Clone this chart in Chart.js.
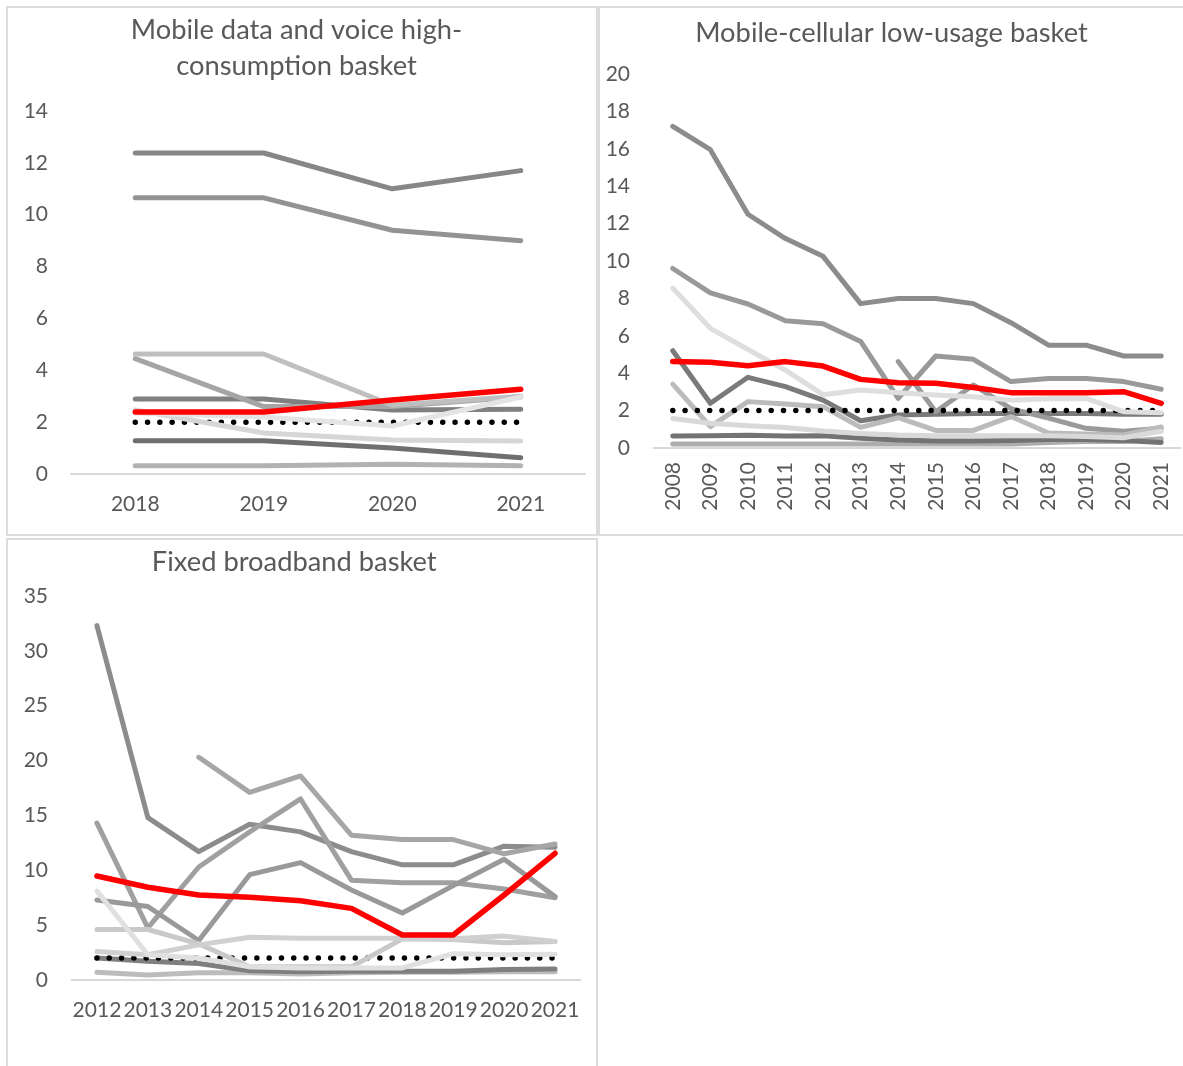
<!DOCTYPE html>
<html>
<head>
<meta charset="utf-8">
<script src="https://cdn.jsdelivr.net/npm/chart.js@4/dist/chart.umd.min.js"></script>
<style>
  body { margin:0; background:#fff; width:1183px; height:1066px; overflow:hidden; position:relative; }
  .panel { position:absolute; border:2px solid #dcdcdc; box-sizing:border-box; }
  canvas { position:absolute; }
</style>
</head>
<body>
<div class="panel" style="left:6px;top:6px;width:592px;height:530px"></div>
<div class="panel" style="left:598px;top:6px;width:600px;height:530px"></div>
<div class="panel" style="left:6px;top:538px;width:592px;height:540px"></div>
<canvas id="c1" width="587" height="526" style="left:8px;top:8px"></canvas>
<canvas id="c2" width="580" height="526" style="left:603px;top:8px"></canvas>
<canvas id="c3" width="588" height="526" style="left:8px;top:540px"></canvas>
<script>
// --- panel 1: mobile data and voice high-consumption basket
const years1 = ['2018', '2019', '2020', '2021'];
const hc_red = [2.39, 2.39, 2.85, 3.27];
const hc_ref = [2, 2, 2, 2];
const hc_g1 = [12.38, 12.38, 11.0, 11.7];
const hc_g2 = [10.65, 10.65, 9.4, 9.0];
const hc_g3 = [4.63, 4.63, 2.65, 3.0];
const hc_g4 = [4.45, 2.6, 2.6, 2.97];
const hc_g5 = [2.89, 2.89, 2.47, 2.5];
const hc_g6 = [2.47, 1.58, 1.31, 1.27];
const hc_g7 = [2.35, 2.2, 1.85, 2.97];
const hc_g8 = [1.28, 1.28, 1.0, 0.63];
const hc_g9 = [0.32, 0.32, 0.38, 0.32];

// --- panel 2: mobile-cellular low-usage basket
const years2 = ['2008','2009','2010','2011','2012','2013','2014','2015','2016','2017','2018','2019','2020','2021'];
const lu_red = [4.62, 4.58, 4.4, 4.62, 4.38, 3.67, 3.49, 3.46, 3.24, 2.96, 2.96, 2.96, 3.01, 2.39];
const lu_ref = [2, 2, 2, 2, 2, 2, 2, 2, 2, 2, 2, 2, 2, 2];
const lu_g1 = [17.2, 15.95, 12.5, 11.2, 10.25, 7.72, 8.0, 8.0, 7.72, 6.7, 5.5, 5.5, 4.92, 4.92];
const lu_g2 = [9.6, 8.3, 7.7, 6.8, 6.65, 5.7, 2.65, 4.92, 4.74, 3.55, 3.72, 3.72, 3.55, 3.14];
const lu_g3 = [8.55, 6.4, 5.27, 4.16, 2.85, 3.1, 2.95, 2.83, 2.74, 2.56, 2.63, 2.65, 1.94, 1.89];
const lu_g4 = [5.2, 2.39, 3.78, 3.28, 2.56, 1.46, 1.76, 1.8, 1.85, 1.85, 1.85, 1.85, 1.8, 1.8];
const lu_g5 = [null, null, null, null, null, null, 4.62, 1.94, 3.37, 2.1, 1.6, 1.05, 0.9, 1.05];
const lu_g6 = [3.42, 1.14, 2.48, 2.35, 2.21, 1.1, 1.62, 0.94, 0.94, 1.68, 0.8, 0.75, 0.7, 1.12];
const lu_g7 = [1.58, 1.32, 1.19, 1.1, 0.91, 0.78, 0.69, 0.66, 0.66, 0.66, 0.66, 0.62, 0.55, 0.9];
const lu_g8 = [0.64, 0.66, 0.68, 0.64, 0.66, 0.52, 0.43, 0.38, 0.38, 0.4, 0.45, 0.45, 0.4, 0.3];
const lu_g9 = [0.21, 0.21, 0.21, 0.21, 0.21, 0.21, 0.21, 0.21, 0.21, 0.21, 0.3, 0.35, 0.35, 0.5];

// --- panel 3: fixed broadband basket
const years3 = ['2012','2013','2014','2015','2016','2017','2018','2019','2020','2021'];
const fb_red = [9.48, 8.45, 7.75, 7.54, 7.23, 6.53, 4.1, 4.1, 7.75, 11.55];
const fb_ref = [2, 2, 2, 2, 2, 2, 2, 2, 2, 2];
const fb_g1 = [32.3, 14.8, 11.7, 14.2, 13.5, 11.7, 10.5, 10.5, 12.2, 12.1];
const fb_g2 = [null, null, 20.3, 17.1, 18.6, 13.2, 12.8, 12.8, 11.5, 12.4];
const fb_g3 = [14.3, 4.75, 10.3, 13.5, 16.5, 9.1, 8.86, 8.86, 8.3, 7.5];
const fb_g4 = [7.3, 6.7, 3.6, 9.6, 10.7, 8.2, 6.1, 8.6, 11.0, 7.6];
const fb_g5 = [4.6, 4.6, 3.3, 1.2, 1.2, 1.2, 3.75, 3.7, 3.4, 3.5];
const fb_g6 = [2.6, 2.3, 3.2, 3.9, 3.8, 3.8, 3.8, 3.75, 4.0, 3.5];
const fb_g7 = [8.1, 2.3, 2.0, 1.2, 1.1, 1.1, 1.1, 2.4, 2.3, 2.35];
const fb_g8 = [2.0, 1.7, 1.5, 0.85, 0.75, 0.8, 0.8, 0.8, 0.95, 1.0];
const fb_g9 = [0.7, 0.45, 0.65, 0.65, 0.55, 0.65, 0.7, 0.7, 0.75, 0.75];

const txt = '#595959';
const fam = 'Lato, "Open Sans", sans-serif';

function line(data, color, w) {
  return { data, borderColor: color, borderWidth: w || 5, pointRadius: 0, fill: false, tension: 0,
           borderCapStyle: 'round', borderJoinStyle: 'round', spanGaps: false };
}
function dotted(data) {
  const d = line(data, '#000', 5.5);
  d.borderDash = [0, 12.3];
  return d;
}

function makeChart(id, labels, datasets, o) {
  return new Chart(document.getElementById(id).getContext('2d'), {
    type: 'line',
    data: { labels, datasets },
    options: {
      responsive: false, animation: false, events: [],
      layout: { padding: { left: 0, right: o.padRight, top: 0, bottom: 0 } },
      plugins: {
        legend: { display: false }, tooltip: { enabled: false },
        title: { display: true, text: o.title, color: txt,
                 font: { family: fam, size: 27.3, weight: 'normal', lineHeight: 36 / 27.3 },
                 padding: { top: o.titleTop, bottom: o.titleBottom } }
      },
      scales: {
        x: {
          offset: true,
          grid: { display: false, drawTicks: false },
          border: { color: '#d9d9d9', width: 2 },
          ticks: { color: txt, font: { family: fam, size: 21 }, padding: o.xPad,
                   autoSkip: false, minRotation: o.rot, maxRotation: o.rot },
          afterFit: s => { s.height = o.xH; s.paddingLeft = 0; s.paddingRight = 0; }
        },
        y: {
          min: 0, max: o.max,
          grid: { display: false, drawTicks: false },
          border: { display: false },
          ticks: { stepSize: o.step, color: txt, font: { family: fam, size: 21 }, padding: o.yPad },
          afterFit: s => { s.width = o.yW; }
        }
      }
    }
  });
}

makeChart('c1', years1, [
  line(hc_red, '#ff0000', 5.5),
  line(hc_g7, '#e4e4e4'),
  line(hc_g6, '#d6d6d6'),
  dotted(hc_ref),
  line(hc_g3, '#bfbfbf'),
  line(hc_g4, '#a5a5a5'),
  line(hc_g5, '#808080'),
  line(hc_g8, '#6f6f6f'),
  line(hc_g9, '#b2b2b2'),
  line(hc_g1, '#878787'),
  line(hc_g2, '#939393')
], { title: ['Mobile data and voice high-', 'consumption basket'], titleTop: 4, titleBottom: 27,
     padRight: 10, xH: 60, yW: 63, xPad: 18, yPad: 23, max: 14, step: 2, rot: 0 });

makeChart('c2', years2, [
  line(lu_red, '#ff0000', 5.5),
  line(lu_g3, '#dedede'),
  line(lu_g7, '#d9d9d9'),
  dotted(lu_ref),
  line(lu_g6, '#bbbbbb'),
  line(lu_g5, '#9a9a9a'),
  line(lu_g4, '#7a7a7a'),
  line(lu_g8, '#737373'),
  line(lu_g9, '#adadad'),
  line(lu_g1, '#8c8c8c'),
  line(lu_g2, '#999999')
], { title: 'Mobile-cellular low-usage basket', titleTop: 7, titleBottom: 23,
     padRight: 3, xH: 86, yW: 51, xPad: 14, yPad: 24, max: 20, step: 2, rot: 90 });

makeChart('c3', years3, [
  line(fb_red, '#ff0000', 5.5),
  line(fb_g7, '#e0e0e0'),
  line(fb_g6, '#d0d0d0'),
  line(fb_g5, '#c9c9c9'),
  dotted(fb_ref),
  line(fb_g8, '#7f7f7f'),
  line(fb_g9, '#bcbcbc'),
  line(fb_g4, '#999999'),
  line(fb_g3, '#a0a0a0'),
  line(fb_g2, '#a6a6a6'),
  line(fb_g1, '#8c8c8c')
], { title: 'Fixed broadband basket', titleTop: 4, titleBottom: 16,
     padRight: 15.5, xH: 86, yW: 63.5, xPad: 18, yPad: 23.5, max: 35, step: 5, rot: 0 });
</script>
</body>
</html>
